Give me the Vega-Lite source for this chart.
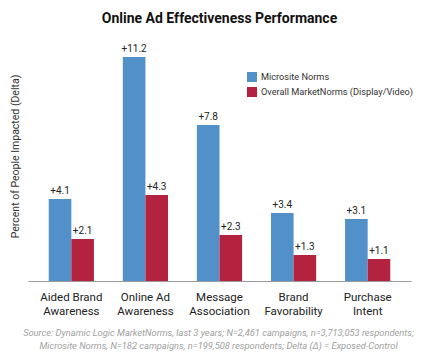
{
  "$schema": "https://vega.github.io/schema/vega-lite/v6.json",
  "autosize": "none",
  "width": 383,
  "height": 240,
  "padding": {"left": 28, "top": 41, "right": 14, "bottom": 82},
  "background": "white",
  "title": {
    "text": "Online Ad Effectiveness Performance",
    "font": "Roboto",
    "fontSize": 14,
    "fontWeight": "bold",
    "color": "#111111",
    "anchor": "middle",
    "offset": 15
  },
  "data": {
    "values": [
      {"category": "Aided Brand|Awareness", "series": "Microsite Norms", "value": 4.1},
      {"category": "Aided Brand|Awareness", "series": "Overall MarketNorms (Display/Video)", "value": 2.1},
      {"category": "Online Ad|Awareness", "series": "Microsite Norms", "value": 11.2},
      {"category": "Online Ad|Awareness", "series": "Overall MarketNorms (Display/Video)", "value": 4.3},
      {"category": "Message|Association", "series": "Microsite Norms", "value": 7.8},
      {"category": "Message|Association", "series": "Overall MarketNorms (Display/Video)", "value": 2.3},
      {"category": "Brand|Favorability", "series": "Microsite Norms", "value": 3.4},
      {"category": "Brand|Favorability", "series": "Overall MarketNorms (Display/Video)", "value": 1.3},
      {"category": "Purchase|Intent", "series": "Microsite Norms", "value": 3.1},
      {"category": "Purchase|Intent", "series": "Overall MarketNorms (Display/Video)", "value": 1.1}
    ]
  },
  "encoding": {
    "x": {
      "field": "category",
      "type": "nominal",
      "sort": null,
      "scale": {"paddingInner": 0.39, "paddingOuter": 0.28},
      "axis": {
        "title": ["Source:  Dynamic Logic MarketNorms, last 3 years;  N=2,461 campaigns, n=3,713,053 respondents;", "Microsite Norms, N=182 campaigns, n=199,508 respondents;  Delta (Δ) = Exposed-Control"],
        "titleFont": "Roboto",
        "titleFontSize": 9.3,
        "titleFontStyle": "italic",
        "titleFontWeight": "normal",
        "titleColor": "#a0a0a0",
        "titleLineHeight": 13,
        "titlePadding": 12,
        "titleX": 190,
        "labelExpr": "split(datum.label, '|')",
        "labelAngle": 0,
        "labelFont": "Roboto",
        "labelFontSize": 11.5,
        "labelColor": "#222222",
        "labelLineHeight": 14,
        "labelPadding": 10,
        "ticks": false,
        "domainColor": "#9a9a9a",
        "domainWidth": 1
      }
    },
    "xOffset": {"field": "series", "type": "nominal", "sort": ["Microsite Norms", "Overall MarketNorms (Display/Video)"], "scale": {"padding": 0}},
    "y": {
      "field": "value",
      "type": "quantitative",
      "scale": {"domain": [0, 12]},
      "axis": {
        "title": "Percent of People Impacted (Delta)",
        "titleFont": "Roboto",
        "titleFontSize": 10.5,
        "titleFontWeight": "normal",
        "titleColor": "#333333",
        "titlePadding": 8,
        "titleY": 115,
        "labels": false,
        "ticks": false,
        "domain": false,
        "grid": false
      }
    }
  },
  "layer": [
    {
      "mark": {"type": "bar"},
      "encoding": {
        "color": {
          "field": "series",
          "type": "nominal",
          "sort": ["Microsite Norms", "Overall MarketNorms (Display/Video)"],
          "scale": {"range": ["#5290CA", "#B3223F"]},
          "legend": {
            "title": null,
            "orient": "none",
            "legendX": 219,
            "legendY": 31,
            "symbolType": "square",
            "symbolSize": 100,
            "symbolStrokeWidth": 0,
            "labelFont": "Roboto",
            "labelFontSize": 9.2,
            "labelColor": "#333333",
            "labelLimit": 0,
            "labelOffset": 4,
            "rowPadding": 4
          }
        }
      }
    },
    {
      "mark": {"type": "text", "baseline": "bottom", "dy": -3, "font": "Roboto", "fontSize": 10, "color": "#222222"},
      "encoding": {
        "text": {"field": "value", "type": "quantitative", "format": "+.1f"}
      }
    }
  ],
  "config": {"view": {"stroke": null}}
}
